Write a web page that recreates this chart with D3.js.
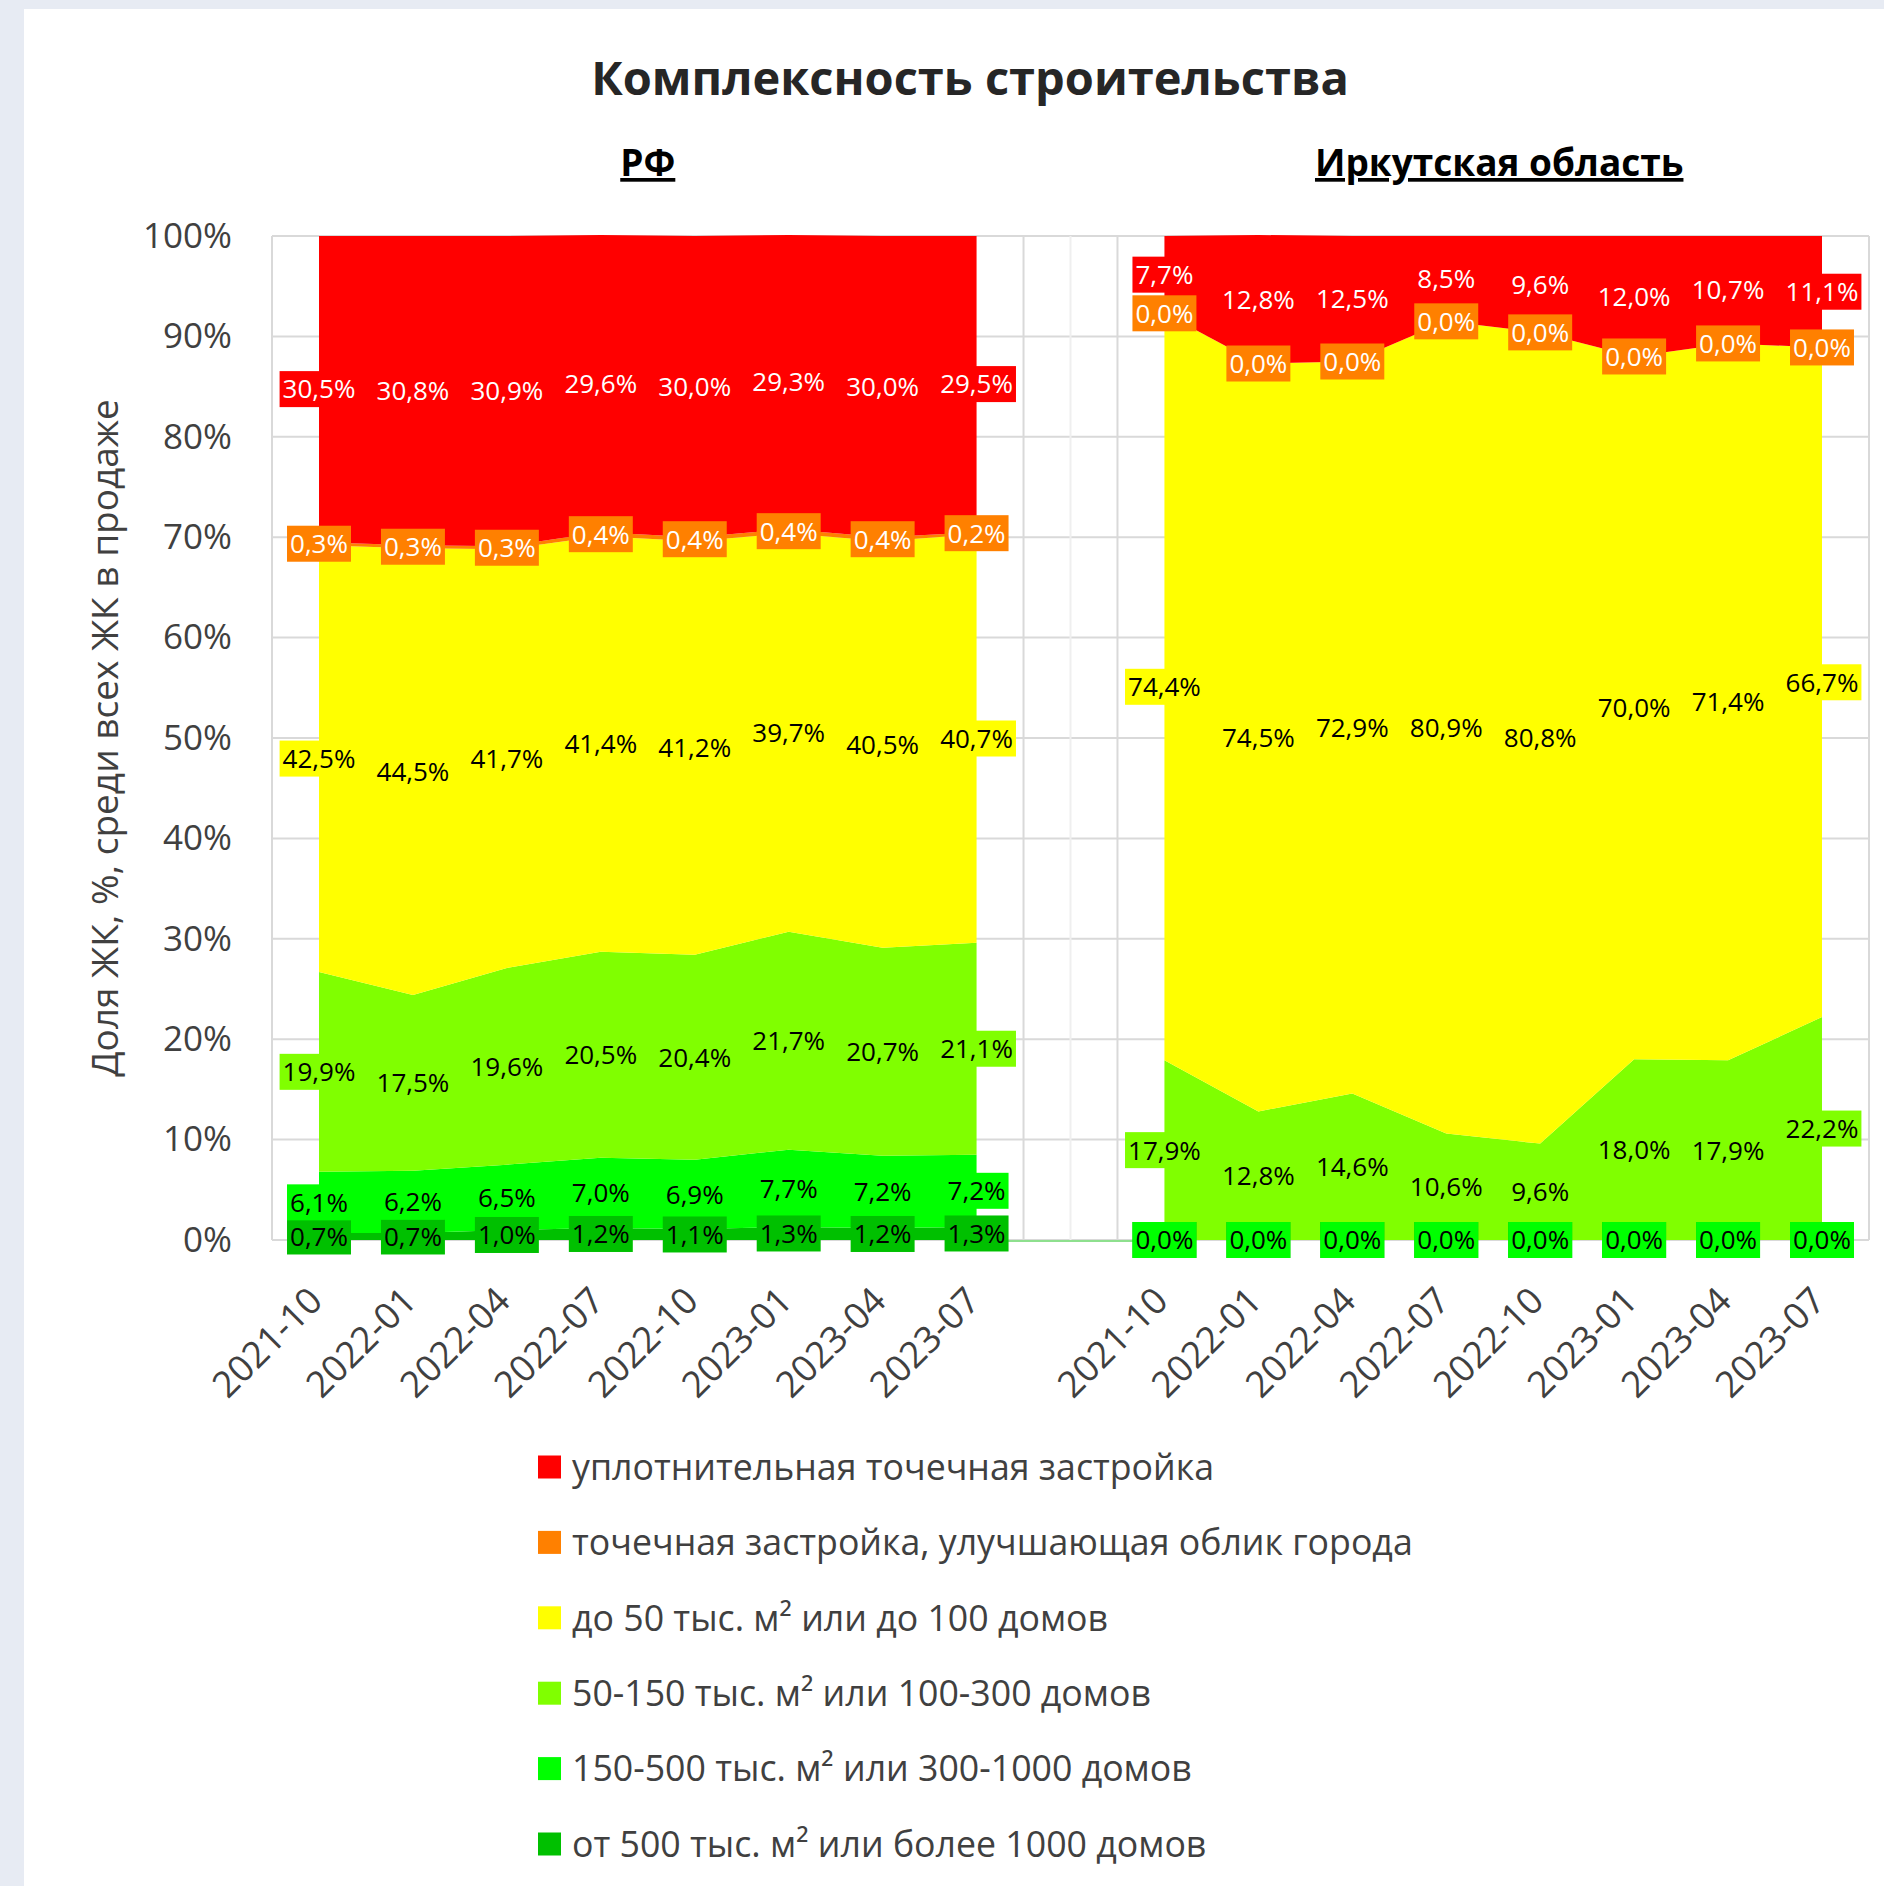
<!DOCTYPE html>
<html><head><meta charset="utf-8">
<script src="https://cdn.jsdelivr.net/npm/d3@7"></script>
<style>body{margin:0;background:#fff}svg{display:block}text{font-family:"Open Sans",sans-serif}</style>
</head><body><svg id="c" width="1884" height="1886"></svg>
<script>
const categories = ['2021-10','2022-01','2022-04','2022-07','2022-10','2023-01','2023-04','2023-07'];
const seriesNames = [
  'от 500 тыс. м² или более 1000 домов',
  '150-500 тыс. м² или 300-1000 домов',
  '50-150 тыс. м² или 100-300 домов',
  'до 50 тыс. м² или до 100 домов',
  'точечная застройка, улучшающая облик города',
  'уплотнительная точечная застройка'
];
const seriesColors = ['#00c000','#00ff00','#80ff00','#ffff00','#ff8000','#ff0000'];
const labelTextColors = ['#000','#000','#000','#000','#fff','#fff'];
// RF values (bottom to top)
const rfDark   = [0.7,0.7,1.0,1.2,1.1,1.3,1.2,1.3];
const rfGreen  = [6.1,6.2,6.5,7.0,6.9,7.7,7.2,7.2];
const rfLight  = [19.9,17.5,19.6,20.5,20.4,21.7,20.7,21.1];
const rfYellow = [42.5,44.5,41.7,41.4,41.2,39.7,40.5,40.7];
const rfOrange = [0.3,0.3,0.3,0.4,0.4,0.4,0.4,0.2];
const rfRed    = [30.5,30.8,30.9,29.6,30.0,29.3,30.0,29.5];
// Irkutsk values
const irDark   = [0,0,0,0,0,0,0,0];
const irGreen  = [0,0,0,0,0,0,0,0];
const irLight  = [17.9,12.8,14.6,10.6,9.6,18.0,17.9,22.2];
const irYellow = [74.4,74.5,72.9,80.9,80.8,70.0,71.4,66.7];
const irOrange = [0,0,0,0,0,0,0,0];
const irRed    = [7.7,12.8,12.5,8.5,9.6,12.0,10.7,11.1];
const yTicks = [0,10,20,30,40,50,60,70,80,90,100];

const panels = [
  {key:'rf', title:'РФ', series:[rfDark,rfGreen,rfLight,rfYellow,rfOrange,rfRed]},
  {key:'ir', title:'Иркутская область', series:[irDark,irGreen,irLight,irYellow,irOrange,irRed]}
];

const svg = d3.select('#c');
svg.append('rect').attr('width',1884).attr('height',1886).attr('fill','#e7ebf3');
svg.append('rect').attr('x',24).attr('y',9).attr('width',1860).attr('height',1877).attr('fill','#fff');

const plotL = 272, plotR = 1869, plotT = 236, plotB = 1240;
const domain = [...categories.map(c=>'rf|'+c), 'gap', ...categories.map(c=>'ir|'+c)];
const x = d3.scalePoint().domain(domain).range([plotL+47, plotR-47]);
const y = d3.scaleLinear().domain([0,100]).range([plotB, plotT]);

const grid = svg.append('g');
yTicks.forEach(t=>{
  grid.append('line').attr('x1',plotL).attr('x2',plotR).attr('y1',y(t)).attr('y2',y(t))
    .attr('stroke','#d9d9d9').attr('stroke-width',2);
});
const gapX = x('gap'), stepX = x.step();
[[plotL,'#d9d9d9'],[gapX-stepX/2,'#d9d9d9'],[gapX,'#efefef'],[gapX+stepX/2,'#d9d9d9'],[plotR,'#d9d9d9']].forEach(([vx,col])=>{
  grid.append('line').attr('x1',vx).attr('x2',vx).attr('y1',plotT).attr('y2',plotB)
    .attr('stroke',col).attr('stroke-width',2);
});

// thin line across gap at 0
svg.append('line').attr('x1',x('rf|'+categories[7])).attr('x2',x('ir|'+categories[0]))
  .attr('y1',y(0)+1).attr('y2',y(0)+1).attr('stroke','#8ee08e').attr('stroke-width',2);

const labelsG = [];
panels.forEach(p=>{
  const rows = categories.map((c,i)=>{const o={cat:p.key+'|'+c}; p.series.forEach((s,j)=>o['s'+j]=s[i]); return o;});
  const stack = d3.stack().keys(p.series.map((s,j)=>'s'+j))(rows);
  const area = d3.area().x(d=>x(d.data.cat)).y0(d=>y(d[0])).y1(d=>y(d[1]));
  stack.forEach((layer,j)=>{
    svg.append('path').datum(layer).attr('d',area).attr('fill',seriesColors[j]);
  });
  stack.forEach((layer,j)=>{
    layer.forEach((d,i)=>{
      labelsG.push({x:x(d.data.cat), y:y((d[0]+d[1])/2), v:p.series[j][i], j});
    });
  });
});

const fmt = v => d3.format('.1f')(v).replace('.',',')+'%';
const lg = svg.append('g');
labelsG.forEach(l=>{
  const g = lg.append('g');
  const r = g.append('rect');
  const t = g.append('text').attr('x',l.x).attr('y',l.y).attr('dy','0.36em')
    .attr('text-anchor','middle').attr('font-size',26).attr('fill',labelTextColors[l.j]).text(fmt(l.v));
  const w = t.node().getComputedTextLength()+6;
  r.attr('x',l.x-w/2).attr('y',l.y-18).attr('width',w).attr('height',36).attr('fill',seriesColors[l.j]);
});

// Y axis
const yAxis = svg.append('g').attr('transform',`translate(${plotL},0)`)
  .call(d3.axisLeft(y).tickValues(yTicks).tickFormat(d=>d+'%').tickSize(0).tickPadding(40));
yAxis.select('.domain').remove();
yAxis.selectAll('text').attr('font-size',35).attr('fill','#404040').attr('font-family','"Open Sans",sans-serif');

// X axis
const xAxis = svg.append('g').attr('transform',`translate(0,${plotB})`)
  .call(d3.axisBottom(x).tickValues(domain.filter(d=>d!=='gap')).tickFormat(d=>d.split('|')[1]).tickSize(0));
xAxis.select('.domain').remove();
xAxis.selectAll('text').attr('font-size',36.5).attr('fill','#404040').attr('font-family','"Open Sans",sans-serif')
  .attr('text-anchor','end').attr('y',0).attr('dy',0)
  .attr('transform','translate(5,63) rotate(-45)');

// Titles
svg.append('text').attr('x',970).attr('y',95).attr('text-anchor','middle').attr('font-size',47)
  .attr('font-weight','bold').attr('fill','#262626').text('Комплексность строительства');
panels.forEach((p,k)=>{
  const cx = (x(p.key+'|'+categories[0]) + x(p.key+'|'+categories[7]))/2 + (k ? 6 : 0);
  svg.append('text').attr('x',cx).attr('y',176).attr('text-anchor','middle').attr('font-size',37)
    .attr('font-weight','bold').attr('fill','#000').attr('text-decoration','underline').text(p.title);
});
svg.append('text').attr('transform',`translate(118,${(plotT+plotB)/2}) rotate(-90)`).attr('text-anchor','middle')
  .attr('font-size',37).attr('fill','#404040').text('Доля ЖК, %, среди всех ЖК в продаже');

// Legend
const legend = svg.append('g');
const order = [5,4,3,2,1,0];
order.forEach((j,k)=>{
  const ly = 1467 + k*75.4;
  legend.append('rect').attr('x',538).attr('y',ly-11.5).attr('width',23).attr('height',23).attr('fill',seriesColors[j]);
  legend.append('text').attr('x',572).attr('y',ly).attr('dy','0.36em').attr('font-size',35.7).attr('fill','#404040').text(seriesNames[j]);
});
</script></body></html>
